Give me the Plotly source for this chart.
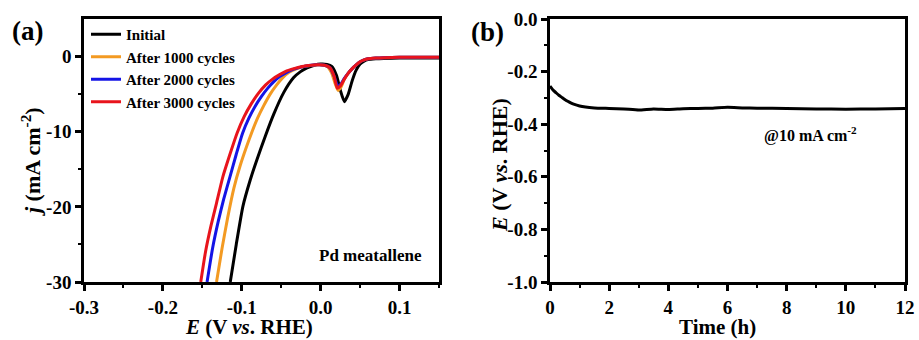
import plotly.graph_objects as go

# ---------------- data: panel (a) LSV curves ----------------
E_initial = [-0.1146, -0.107, -0.0985, -0.0892, -0.0807, -0.0702, -0.0596, -0.0469, -0.0342,
             -0.0255, -0.0173, -0.008, 0.000, 0.008, 0.014, 0.020, 0.025, 0.030, 0.035,
             0.040, 0.045, 0.050, 0.055, 0.060, 0.070, 0.080, 0.100, 0.120, 0.150]
j_initial = [-30, -25, -19.9, -16.4, -13.7, -10.6, -7.7, -4.8, -2.8,
             -2.0, -1.5, -1.15, -1.0, -1.05, -1.3, -2.5, -4.5, -6.0, -5.0,
             -3.2, -1.8, -1.0, -0.6, -0.4, -0.3, -0.25, -0.2, -0.2, -0.2]

E_1000 = [-0.132, -0.125, -0.118, -0.110, -0.102, -0.094, -0.087, -0.080, -0.072, -0.064,
          -0.056, -0.048, -0.040, -0.030, -0.020, -0.010, 0.000, 0.008, 0.014, 0.018,
          0.022, 0.026, 0.030, 0.035, 0.040, 0.045, 0.050, 0.055, 0.060, 0.070, 0.080,
          0.100, 0.120, 0.150]
j_1000 = [-30, -25.5, -21.5, -17.5, -14.5, -12.0, -10.0, -8.2, -6.5, -5.0,
          -3.8, -2.8, -2.1, -1.6, -1.3, -1.15, -1.1, -1.3, -2.2, -3.5,
          -4.5, -4.0, -3.0, -2.2, -1.6, -1.1, -0.7, -0.45, -0.3, -0.2, -0.15,
          -0.1, -0.1, -0.1]

E_2000 = [-0.144, -0.137, -0.130, -0.123, -0.115, -0.107, -0.099, -0.091, -0.083, -0.075,
          -0.067, -0.059, -0.051, -0.043, -0.035, -0.025, -0.015, -0.005, 0.005, 0.012,
          0.017, 0.022, 0.026, 0.030, 0.035, 0.040, 0.045, 0.050, 0.055, 0.060, 0.070,
          0.080, 0.100, 0.120, 0.150]
j_2000 = [-30, -25.5, -22, -19, -16, -13, -10.2, -8.2, -6.6, -5.3,
          -4.2, -3.3, -2.6, -2.1, -1.7, -1.4, -1.2, -1.1, -1.15, -1.5,
          -2.6, -4.0, -3.6, -2.9, -2.2, -1.6, -1.1, -0.7, -0.45, -0.3, -0.2,
          -0.15, -0.1, -0.1, -0.1]

E_3000 = [-0.152, -0.146, -0.139, -0.132, -0.124, -0.115, -0.106, -0.097, -0.088, -0.079,
          -0.070, -0.061, -0.052, -0.043, -0.034, -0.025, -0.015, -0.005, 0.005, 0.012,
          0.017, 0.021, 0.025, 0.030, 0.035, 0.040, 0.045, 0.050, 0.055, 0.060, 0.070,
          0.080, 0.100, 0.120, 0.150]
j_3000 = [-30, -26, -22.5, -19.5, -16, -13, -10.2, -8.0, -6.3, -4.9,
          -3.8, -3.0, -2.4, -1.9, -1.6, -1.35, -1.2, -1.1, -1.15, -1.5,
          -2.6, -4.2, -3.9, -3.0, -2.2, -1.6, -1.1, -0.7, -0.45, -0.3, -0.2,
          -0.15, -0.1, -0.1, -0.1]

series_names = ["Initial", "After 1000 cycles", "After 2000 cycles", "After 3000 cycles"]
series_colors = ["#000000", "#F39A22", "#1414E6", "#E8141C"]

# ---------------- data: panel (b) chronopotentiometry ----------------
time_h = [0, 0.1, 0.2, 0.3, 0.4, 0.5, 0.6, 0.7, 0.8, 1.0, 1.2, 1.5, 2.0, 2.5, 3.0, 3.5,
          4.0, 4.5, 5.0, 5.5, 6.0, 6.5, 7.0, 8.0, 9.0, 10.0, 11.0, 12.0]
E_time = [-0.255, -0.270, -0.280, -0.290, -0.298, -0.306, -0.313, -0.319, -0.324, -0.331,
          -0.335, -0.338, -0.340, -0.342, -0.346, -0.342, -0.344, -0.341, -0.340, -0.339,
          -0.336, -0.338, -0.339, -0.340, -0.342, -0.343, -0.342, -0.340]

# ---------------- tick labels ----------------
xa_tickvals = [-0.3, -0.2, -0.1, 0.0, 0.1]
xa_ticktext = ["-0.3", "-0.2", "-0.1", "0.0", "0.1"]
ya_tickvals = [0, -10, -20, -30]
ya_ticktext = ["0", "-10", "-20", "-30"]
xb_tickvals = [0, 2, 4, 6, 8, 10, 12]
xb_ticktext = ["0", "2", "4", "6", "8", "10", "12"]
yb_tickvals = [0.0, -0.2, -0.4, -0.6, -0.8, -1.0]
yb_ticktext = ["0.0", "-0.2", "-0.4", "-0.6", "-0.8", "-1.0"]

W, H = 919, 340
FONT = "Liberation Serif"

def px(x):
    return x / W

def py(y):
    return 1 - y / H

fig = go.Figure()

E_list = [E_initial, E_1000, E_2000, E_3000]
j_list = [j_initial, j_1000, j_2000, j_3000]
for i in range(4):
    fig.add_trace(go.Scatter(
        x=E_list[i], y=j_list[i], mode="lines", name=series_names[i],
        line=dict(color=series_colors[i], width=3, shape="spline", smoothing=0.5),
        xaxis="x", yaxis="y", showlegend=True,
    ))

fig.add_trace(go.Scatter(
    x=time_h, y=E_time, mode="lines", name="E-t",
    line=dict(color="#000000", width=3, shape="spline", smoothing=0.5),
    xaxis="x2", yaxis="y2", showlegend=False,
))

tickfont = dict(family=FONT, size=19, color="black", weight="bold")
axis_common = dict(
    showline=True, linecolor="black", linewidth=2.5, mirror=True,
    ticks="outside", ticklen=6, tickwidth=2.5, tickcolor="black",
    showgrid=False, zeroline=False, tickfont=tickfont, automargin=False,
)

dom_a = [px(84), px(439)]
dom_b = [px(550), px(905)]
dom_y = [py(282), py(19)]

fig.update_layout(
    width=W, height=H,
    margin=dict(l=0, r=0, t=0, b=0, autoexpand=False),
    paper_bgcolor="white", plot_bgcolor="white",
    font=dict(family=FONT, color="black"),
    showlegend=True,
    legend=dict(
        x=px(86), y=py(18), xanchor="left", yanchor="top",
        bgcolor="rgba(0,0,0,0)", borderwidth=0,
        font=dict(family=FONT, size=15, color="black", weight="bold"),
        itemwidth=30, tracegroupgap=0,
    ),
    xaxis=dict(domain=dom_a, anchor="y", range=[-0.3, 0.15],
               tickvals=xa_tickvals, ticktext=xa_ticktext,
               minor=dict(ticks="outside", ticklen=3, tickwidth=1.5, tickcolor="black",
                          dtick=0.05, showgrid=False),
               **axis_common),
    yaxis=dict(domain=dom_y, anchor="x", range=[-30, 5],
               tickvals=ya_tickvals, ticktext=ya_ticktext,
               minor=dict(ticks="outside", ticklen=3, tickwidth=1.5, tickcolor="black",
                          tickvals=[-25, -15, -5], showgrid=False),
               **axis_common),
    xaxis2=dict(domain=dom_b, anchor="y2", range=[0, 12],
                tickvals=xb_tickvals, ticktext=xb_ticktext,
                minor=dict(ticks="outside", ticklen=3, tickwidth=1.5, tickcolor="black",
                           dtick=1, showgrid=False),
                **axis_common),
    yaxis2=dict(domain=dom_y, anchor="x2", range=[-1.0, 0.0],
                tickvals=yb_tickvals, ticktext=yb_ticktext,
                minor=dict(ticks="outside", ticklen=3, tickwidth=1.5, tickcolor="black",
                           dtick=0.1, showgrid=False),
                **axis_common),
)

def ann(text, x, y, size, angle=0, xanchor="center"):
    fig.add_annotation(
        text=text, x=px(x), y=py(y), xref="paper", yref="paper",
        xanchor=xanchor, yanchor="middle", showarrow=False, textangle=angle,
        font=dict(family=FONT, size=size, color="black"),
    )

ann("<b>(a)</b>", 27, 31, 27)
ann("<b>(b)</b>", 488, 32, 27)
ann("<b><i>j</i> (mA cm<sup>-2</sup>)</b>", 31, 162, 22, angle=-90)
ann("<b><i>E</i> (V <i>vs</i>. RHE)</b>", 249, 327, 21)
ann("<b><i>E</i> (V <i>vs</i>. RHE)</b>", 499, 165, 22, angle=-90)
ann("<b>Time (h)</b>", 717, 327, 21)
ann("<b>Pd meatallene</b>", 370, 255, 17)
ann("<b>@10 mA cm<sup>-2</sup></b>", 810, 135, 16)

fig.write_html("out.html", config={"displayModeBar": False},
               post_script="document.body.style.margin='0';document.body.style.padding='0';")
